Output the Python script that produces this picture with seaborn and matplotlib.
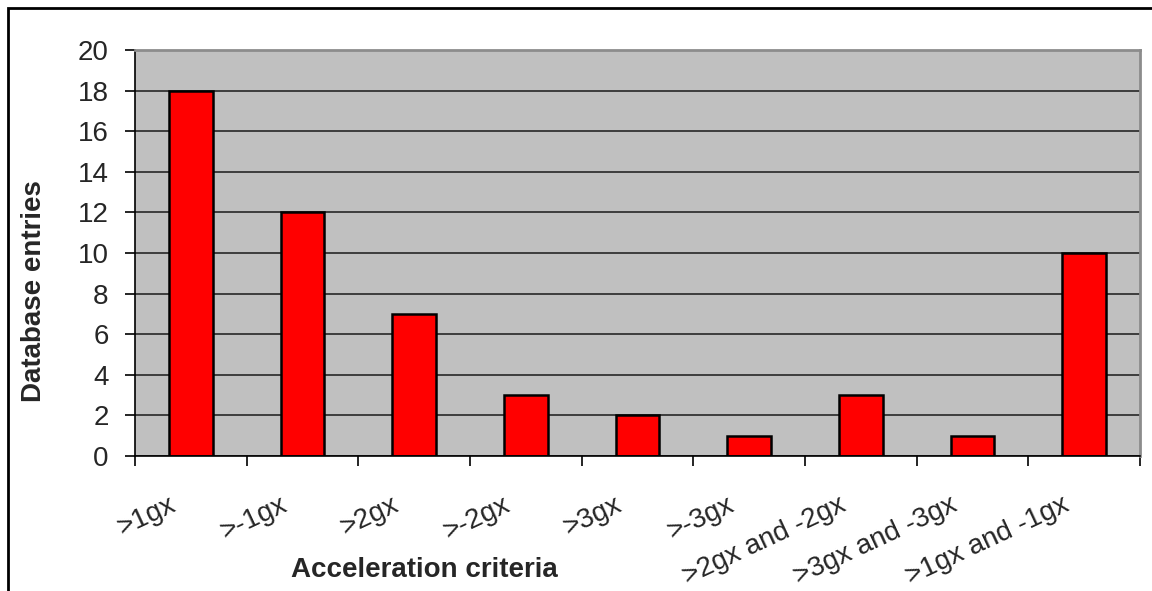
import pandas as pd
import matplotlib
matplotlib.use('Agg')
import matplotlib.pyplot as plt
import seaborn as sns
from matplotlib.patches import Rectangle

# 데이터
categories = ['>1gx', '>-1gx', '>2gx', '>-2gx', '>3gx', '>-3gx',
              '>2gx and -2gx', '>3gx and -3gx', '>1gx and -1gx']
entries = [18, 12, 7, 3, 2, 1, 3, 1, 10]

df = pd.DataFrame({'criteria': categories, 'entries': entries})

sns.set_style('white')
plt.rcParams['font.family'] = ['Liberation Sans', 'DejaVu Sans']

W, H = 1152, 591
fig = plt.figure(figsize=(W / 100, H / 100), dpi=100)
ax = fig.add_axes([135 / W, 1 - 456 / H, 1005 / W, 406 / H])
ax.set_facecolor('#C0C0C0')

sns.barplot(data=df, x='criteria', y='entries', color='#FF0000',
            edgecolor='black', linewidth=1.8, width=0.39, saturation=1, ax=ax)

ax.set_ylim(0, 20)
ax.set_xlim(-0.5, len(categories) - 0.5)
ax.set_yticks(range(0, 21, 2))
ax.yaxis.grid(True, color='#333333', linewidth=1.3)
ax.set_axisbelow(True)

# x축 눈금은 범주 경계에, 라벨은 범주 중앙 약간 왼쪽에
ax.set_xticks([i - 0.5 for i in range(len(categories) + 1)])
ax.set_xticklabels([])
ax.set_xticks([i - 0.2 for i in range(len(categories))], minor=True)
ax.set_xticklabels(categories, minor=True, rotation=25, ha='right', va='top',
                   rotation_mode='anchor', fontsize=20)
ax.tick_params(axis='x', which='major', direction='out', length=7, width=1.2,
               color='black', bottom=True)
ax.tick_params(axis='x', which='minor', length=0, pad=26)
ax.tick_params(axis='y', direction='out', length=7, width=1.2, color='black',
               left=True, labelsize=20, pad=12)

for side in ['top', 'right']:
    ax.spines[side].set_color('#8c8c8c')
    ax.spines[side].set_linewidth(2)
ax.spines['left'].set_color('black')
ax.spines['bottom'].set_color('black')
ax.spines['left'].set_linewidth(1.2)
ax.spines['bottom'].set_linewidth(1.2)

ax.set_xlabel('')
ax.set_ylabel('')
fig.text(424 / W, 1 - 577 / H, 'Acceleration criteria', fontsize=20,
         fontweight='bold', ha='center', va='baseline')
fig.text(34 / W, 1 - 291 / H, 'Database entries', fontsize=20,
         fontweight='bold', ha='center', va='center', rotation=90)

# 바깥 테두리
fig.patches.append(Rectangle((8 / W, -0.05), 1.1, 1 - 8 / H + 0.05,
                             transform=fig.transFigure, fill=False,
                             edgecolor='black', linewidth=2))

fig.savefig('out.png', dpi=100)
